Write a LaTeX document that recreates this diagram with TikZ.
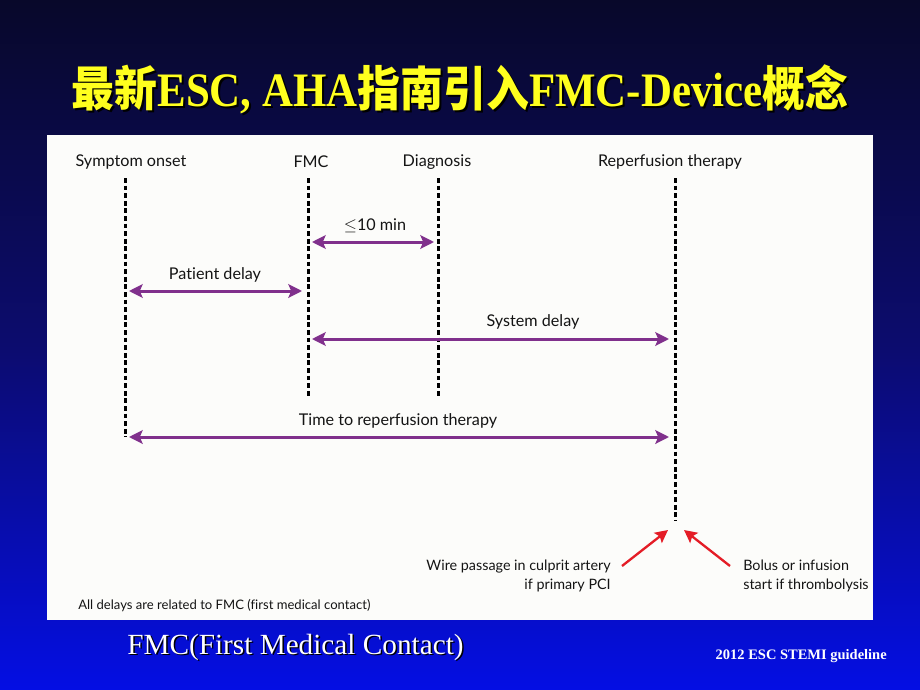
\documentclass[tikz,border=0pt]{standalone}
\usepackage{fontspec}
\setmainfont{Liberation Serif}
\newfontfamily\cjk{Noto Sans CJK SC}
\newfontfamily\gill[Ligatures=NoCommon]{Lato}
\usepackage{tikz}
\usetikzlibrary{arrows.meta,positioning}
\usepackage{xcolor}
\definecolor{bgtop}{RGB}{8,8,42}
\definecolor{bgmid}{RGB}{12,12,110}
\definecolor{bgbot}{RGB}{4,14,228}
\definecolor{titleyellow}{RGB}{255,255,30}
\definecolor{delaypurple}{RGB}{128,48,140}
\definecolor{markred}{RGB}{228,28,38}
\definecolor{panelwhite}{RGB}{252,252,250}
\tikzstyle{timeline} = [line width=0.075cm, dash pattern=on 0.12cm off 0.07cm, color=black]
\tikzstyle{delay} = [line width=0.075cm, {Stealth[length=0.34cm,width=0.34cm,inset=0.07cm]}-{Stealth[length=0.34cm,width=0.34cm,inset=0.07cm]}, color=delaypurple]
\tikzstyle{pointer} = [line width=0.058cm, -{Stealth[length=0.32cm,width=0.32cm,inset=0.06cm]}, color=markred]
\tikzstyle{milestone} = [inner sep=0pt, text=black!92, font=\gill\fontsize{11.5}{14}\selectfont]
\tikzstyle{note} = [inner sep=0pt, text=black!92, font=\gill\fontsize{10.2}{14}\selectfont, align=right]
\newcommand{\slidetitle}{\scalebox{1}[1.12]{{\cjk\bfseries 最新}ESC, AHA{\cjk\bfseries 指南引入}FMC-Device{\cjk\bfseries 概念}}}

\begin{document}
\begin{tikzpicture}[x=0.025cm, y=-0.025cm]

% Slide background
\useasboundingbox (0,0) rectangle (920,690);
\shade[top color=bgtop, bottom color=bgbot, middle color=bgmid] (0,0) rectangle (920,690);

% Title
\node[inner sep=0pt, text=black, font=\fontsize{30.5}{36}\selectfont\bfseries] (titleshadow) at (462,91) {\slidetitle};
\node[inner sep=0pt, text=titleyellow, font=\fontsize{30.5}{36}\selectfont\bfseries] (title) at (460,89) {\slidetitle};

% Figure panel
\fill[panelwhite] (47,135) rectangle (873,620);

% Milestones
\node[milestone] (onset) at (131,162) {Symptom onset};
\node[milestone] (fmc) at (311,162) {FMC};
\node[milestone] (diag) at (437,162) {Diagnosis};
\node[milestone] (reperf) at (670,162) {Reperfusion therapy};

\coordinate (onsetT) at (125,178);
\coordinate (onsetB) at (125,437);
\coordinate (fmcT) at (308,178);
\coordinate (fmcB) at (308,397);
\coordinate (diagT) at (438,178);
\coordinate (diagB) at (438,397);
\coordinate (reperfT) at (675,178);
\coordinate (reperfB) at (675,521);

\draw[timeline] (onsetT) -- (onsetB);
\draw[timeline] (fmcT) -- (fmcB);
\draw[timeline] (diagT) -- (diagB);
\draw[timeline] (reperfT) -- (reperfB);

% Delays
\coordinate (tenL) at (312,242);
\coordinate (tenR) at (434,242);
\node[milestone] (ten) at (375,226) {$\leq$10 min};
\draw[delay] (tenL) -- (tenR);

\coordinate (patientL) at (129,291);
\coordinate (patientR) at (302,291);
\node[milestone] (patient) at (215,275) {Patient delay};
\draw[delay] (patientL) -- (patientR);

\coordinate (systemL) at (312,339);
\coordinate (systemR) at (669,339);
\node[milestone] (system) at (533,322) {System delay};
\draw[delay] (systemL) -- (systemR);

\coordinate (totalL) at (129,437);
\coordinate (totalR) at (669,437);
\node[milestone] (total) at (398,421) {Time to reperfusion therapy};
\draw[delay] (totalL) -- (totalR);

% Reperfusion start
\node[note, anchor=east] (wire) at (611,576) {Wire passage in culprit artery\\if primary PCI};
\node[note, anchor=west, align=left] (bolus) at (743,576) {Bolus or infusion\\start if thrombolysis};
\coordinate (wireS) at (622,566);
\coordinate (wireE) at (668,530);
\coordinate (bolusS) at (730,566);
\coordinate (bolusE) at (684,530);
\draw[pointer] (wireS) -- (wireE);
\draw[pointer] (bolusS) -- (bolusE);

\node[note, anchor=west, font=\gill\fontsize{9.3}{12}\selectfont] (footnote) at (78,606) {All delays are related to FMC (first medical contact)};

% Footer
\node[inner sep=0pt, anchor=west, text=black, font=\fontsize{20.8}{24}\selectfont] (fmcshadow) at (128.5,648.5) {FMC(First Medical Contact)};
\node[inner sep=0pt, anchor=west, text=white, font=\fontsize{20.8}{24}\selectfont] (fmcfull) at (127,647) {FMC(First Medical Contact)};
\node[inner sep=0pt, anchor=east, text=white, font=\fontsize{10.3}{12}\selectfont\bfseries] (source) at (887,656) {2012 ESC STEMI guideline};

\end{tikzpicture}
\end{document}
